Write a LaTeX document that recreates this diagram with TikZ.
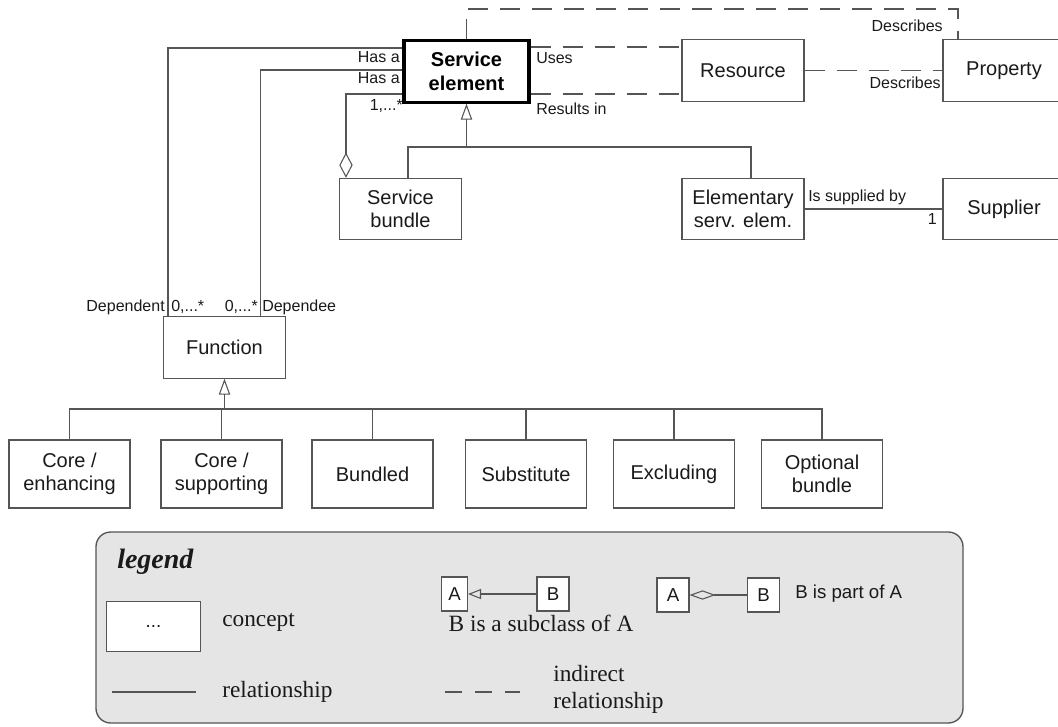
\documentclass[tikz,border=0pt]{standalone}
\usepackage{fontspec}
\setmainfont{Liberation Serif}
\setsansfont{Liberation Sans}
\usetikzlibrary{arrows.meta}
\definecolor{ln}{HTML}{555555}
\definecolor{tx}{HTML}{1A1A1A}
\definecolor{lg}{HTML}{E5E5E5}
\begin{document}
\begin{tikzpicture}[x=0.75pt,y=-0.75pt,
 box/.style={draw=ln,line width=0.8pt,fill=white,minimum width=91.5pt,minimum height=46pt,inner sep=1pt,align=center,font=\sffamily\fontsize{15}{17.5}\selectfont,text=tx},
 rowbox/.style={box,minimum width=90.75pt,minimum height=51pt},
 sbox/.style={box,minimum width=24pt,minimum height=25.5pt,font=\sffamily\fontsize{14}{17}\selectfont},
 lab/.style={inner sep=0pt,font=\sffamily\fontsize{12}{14}\selectfont,text=tx},
 rel/.style={draw=ln,line width=0.8pt},
 ind/.style={rel,dash pattern=on 15pt off 9pt},
 isa/.style={rel,-{Triangle[open,length=12pt,width=8.5pt]}},
 agg/.style={rel,-{Diamond[open,length=19pt,width=10pt]}},
 ser/.style={inner sep=0pt,font=\fontsize{17.5}{19}\selectfont,text=tx},
]
\useasboundingbox (0,0) rectangle (1058,726);

% legend background
\node[draw=ln,fill=lg,rounded corners=11pt,line width=1pt,minimum width=650.25pt,minimum height=143.25pt,inner sep=0pt] (leg) at (529.5,627.5) {};

% main nodes
\node[box,draw=black,line width=2.3pt,minimum width=93.75pt,font=\sffamily\bfseries\fontsize{15}{17.5}\selectfont,text=black] (se) at (466.5,71.5) {Service\\element};
\node[box] (res) at (743,70.5) {Resource};
\node[box] (prop) at (1004,70.5) {Property};
\node[box] (sb) at (400.5,209) {Service\\bundle};
\node[box] (ese) at (743,209) {Elementary\\serv. elem.};
\node[box] (sup) at (1004,209) {Supplier};
\node[box] (fn) at (224.5,347.5) {Function};

\node[rowbox] (r1) at (69.5,474) {Core /\\enhancing};
\node[rowbox] (r2) at (221.5,474) {Core /\\supporting};
\node[rowbox] (r3) at (372.5,474) {Bundled};
\node[rowbox] (r4) at (526,474) {Substitute};
\node[rowbox] (r5) at (674,474) {Excluding};
\node[rowbox] (r6) at (822,474) {Optional\\bundle};

% indirect relations
\coordinate (tc) at (958,9);
\draw[ind] (se.north) -- (se.north |- tc) -- (tc) -- (tc |- prop.north);
\draw[ind] (se.east |- 0,47) -- (res.west |- 0,47);
\draw[ind] (se.east |- 0,94) -- (res.west |- 0,94);
\draw[ind] (res.east) -- (prop.west);

% has-a relations
\draw[rel] (se.west |- 0,48) -| ([xshift=3.75pt]fn.north west);
\draw[rel] (se.west |- 0,70) -| ([xshift=-19.5pt]fn.north east);

% aggregation
\draw[agg] (se.west |- 0,94) -| ([xshift=5.25pt]sb.north west);

% specialisation of service element
\coordinate (j1) at (466.5,147);
\draw[isa] (j1) -- (se.south);
\draw[rel] ([xshift=5.6pt]sb.north) -- ([xshift=5.6pt]sb.north |- j1) -- ([xshift=6pt]ese.north |- j1) -- ([xshift=6pt]ese.north);

% supplier
\draw[rel] (ese.east) -- (sup.west);

% function tree
\coordinate (j2) at (224.5,409);
\draw[isa] (fn.south |- j2) -- (fn.south);
\draw[rel] (r1.north) -- (r1.north |- j2) -- (r6.north |- j2) -- (r6.north);
\foreach \r in {r2,r3,r4,r5} \draw[rel] (\r.north) -- (\r.north |- j2);

% labels
\node[lab,anchor=east] at (943,26) {Describes};
\node[lab,anchor=east] at (941,83) {Describes};
\node[lab,anchor=west] at (536,58) {Uses};
\node[lab,anchor=west] at (536,109) {Results in};
\node[lab,anchor=east] at (400,57) {Has a};
\node[lab,anchor=east] at (400,78) {Has a};
\node[lab,anchor=east] at (403,106) {1,...*};
\node[lab,anchor=east] at (165,307) {Dependent};
\node[lab,anchor=west] at (171,307) {0,...*};
\node[lab,anchor=east] at (258,307) {0,...*};
\node[lab,anchor=west] at (262,307) {Dependee};
\node[lab,anchor=west] at (808,197) {Is supplied by};
\node[lab,anchor=east] at (937,219) {1};

% legend content
\node[ser,font=\bfseries\itshape\fontsize{21}{24}\selectfont,anchor=west] at (117,562) {legend};
\node[box,minimum width=70pt,minimum height=38pt,font=\sffamily\fontsize{14}{17}\selectfont] (lc) at (153.5,626.5) {...};
\node[ser,anchor=west] at (222,622) {concept};
\coordinate (rl1) at (112,692);
\coordinate (rl2) at (196,692);
\draw[rel] (rl1) -- (rl2);
\node[ser,anchor=west] at (222,692) {relationship};

\node[sbox,minimum width=19.5pt] (la) at (454.5,594) {A};
\node[sbox] (lb) at (553,594) {B};
\draw[rel,-{Triangle[open,length=9.75pt,width=7.5pt]}] (lb.west) -- (la.east);
\node[ser] at (541,623) {B is a subclass of A};

\coordinate (dl1) at (445,692);
\coordinate (dl2) at (520,692);
\draw[rel,dash pattern=on 12.75pt off 9.75pt] (dl1) -- (dl2);
\node[ser,anchor=west] at (553,674) {indirect};
\node[ser,anchor=west] at (553,703) {relationship};

\node[sbox] (pa) at (673,595) {A};
\node[sbox] (pb) at (763.5,595) {B};
\draw[rel,-{Diamond[open,length=19.5pt,width=7pt]}] (pb.west) -- (pa.east);
\node[lab,font=\sffamily\fontsize{14}{17}\selectfont,anchor=west] at (795,594) {B is part of A};
\end{tikzpicture}
\end{document}
